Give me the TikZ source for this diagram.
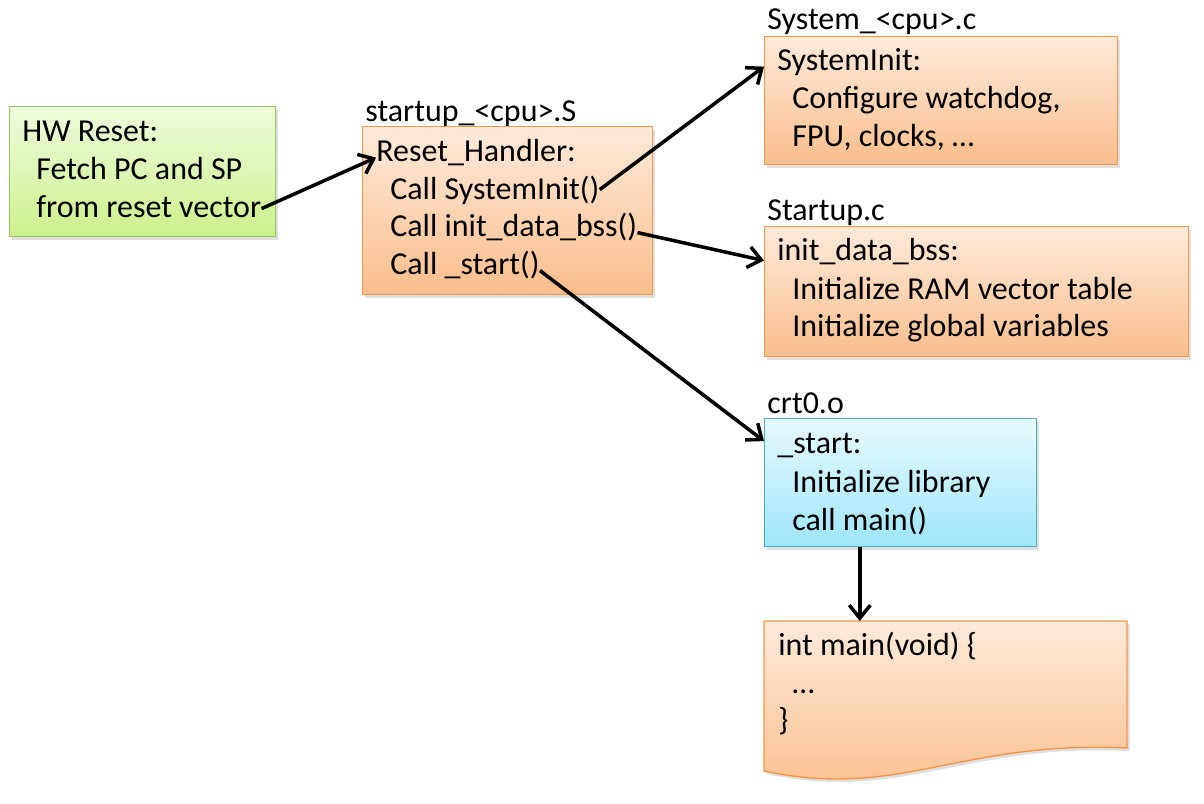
\documentclass[tikz,border=0pt]{standalone}
\usepackage{fontspec}
\setmainfont{Carlito}
\usetikzlibrary{arrows.meta, positioning, calc, shadows}
\definecolor{fileorange}{RGB}{247, 150, 70}
\definecolor{orangetop}{RGB}{253, 234, 218}
\definecolor{orangebottom}{RGB}{251, 190, 140}
\definecolor{filegreen}{RGB}{155, 200, 90}
\definecolor{greentop}{RGB}{238, 251, 220}
\definecolor{greenbottom}{RGB}{204, 240, 140}
\definecolor{filecyan}{RGB}{75, 172, 198}
\definecolor{cyantop}{RGB}{232, 250, 254}
\definecolor{cyanbottom}{RGB}{158, 230, 250}

\begin{document}
\begin{tikzpicture}[x=0.02cm, y=-0.02cm, font=\fontsize{18.2}{22}\selectfont,
        every node/.style={inner sep=0pt},
        codeline/.style={anchor=base west, text height=0.7em, text depth=0.2em},
        filebox/.style={anchor=north west, draw, line width=0.8pt,
            drop shadow={opacity=0.25, shadow xshift=0.05cm, shadow yshift=-0.06cm}},
        orangebox/.style={filebox, draw=fileorange, top color=orangetop, bottom color=orangebottom},
        greenbox/.style={filebox, draw=filegreen, top color=greentop, bottom color=greenbottom},
        cyanbox/.style={filebox, draw=filecyan, top color=cyantop, bottom color=cyanbottom},
        call/.style={line width=2pt, -{Straight Barb[length=0.26cm, width=0.42cm]}}]
    \useasboundingbox (0,0) rectangle (1204,804);

    % HW reset
    \node[greenbox, minimum width=5.32cm, minimum height=2.6cm] (hwreset) at (9,106) {};
    \node[codeline] (hwtitle) at (22,142) {HW Reset:};
    \node[codeline] (hwfetch) at (36,180) {Fetch PC and SP};
    \node[codeline] (hwvector) at (36,218) {from reset vector};

    % startup_<cpu>.S
    \node[codeline] (startupname) at (365,122) {startup\_<cpu>.S};
    \node[orangebox, minimum width=5.8cm, minimum height=3.36cm] (startup) at (362,126) {};
    \node[codeline] (resethandler) at (376,162) {Reset\_Handler:};
    \node[codeline] (callsysinit) at (390,200) {Call SystemInit()};
    \node[codeline] (callinit) at (390,237) {Call init\_data\_bss()};
    \node[codeline] (callstart) at (390,275) {Call \_start()};

    % System_<cpu>.c
    \node[codeline] (systemname) at (767,30) {System\_<cpu>.c};
    \node[orangebox, minimum width=7.06cm, minimum height=2.56cm] (sysinit) at (764,36) {};
    \node[codeline] (sysinittitle) at (777,71) {SystemInit:};
    \node[codeline] (sysinitwd) at (792,109) {Configure watchdog,};
    \node[codeline] (sysinitfpu) at (792,147) {FPU, clocks, …};

    % Startup.c
    \node[codeline] (startupcname) at (767,221) {Startup.c};
    \node[orangebox, minimum width=8.48cm, minimum height=2.6cm] (initdata) at (764,226) {};
    \node[codeline] (initdatatitle) at (777,261) {init\_data\_bss:};
    \node[codeline] (initram) at (792,299) {Initialize RAM vector table};
    \node[codeline] (initglobal) at (792,337) {Initialize global variables};

    % crt0.o
    \node[codeline] (crtname) at (767,413) {crt0.o};
    \node[cyanbox, minimum width=5.44cm, minimum height=2.56cm] (crt0) at (764,418) {};
    \node[codeline] (starttitle) at (777,453) {\_start:};
    \node[codeline] (initlib) at (792,492) {Initialize library};
    \node[codeline] (callmain) at (792,530) {call main()};

    % main
    \path[draw=fileorange, line width=0.8pt, top color=orangetop, bottom color=orangebottom,
        drop shadow={opacity=0.25, shadow xshift=0.05cm, shadow yshift=-0.06cm}]
        (764,621) -- (1127,621) -- (1127,748)
        .. controls (960,740) and (900,800) .. (764,771) -- cycle;
    \coordinate (mainfile) at (945,621);
    \node[codeline] (mainhead) at (778,655) {int main(void) \{};
    \node[codeline] (mainbody) at (792,693) {…};
    \node[codeline] (mainend) at (778,730) {\}};

    % calls
    \draw[call] ([yshift=0.1cm]hwvector.east) -- (resethandler.west);
    \draw[call] ([yshift=0.12cm]callsysinit.east) -- (sysinit.west |- sysinittitle);
    \draw[call] (callinit.east) -- ([yshift=-0.08cm]initdata.west |- initdatatitle);
    \draw[call] (callstart.east) -- ([yshift=0.15cm]crt0.west |- starttitle);
    \draw[call] (callmain.south |- crt0.south) -- (callmain.south |- mainfile);
\end{tikzpicture}
\end{document}
